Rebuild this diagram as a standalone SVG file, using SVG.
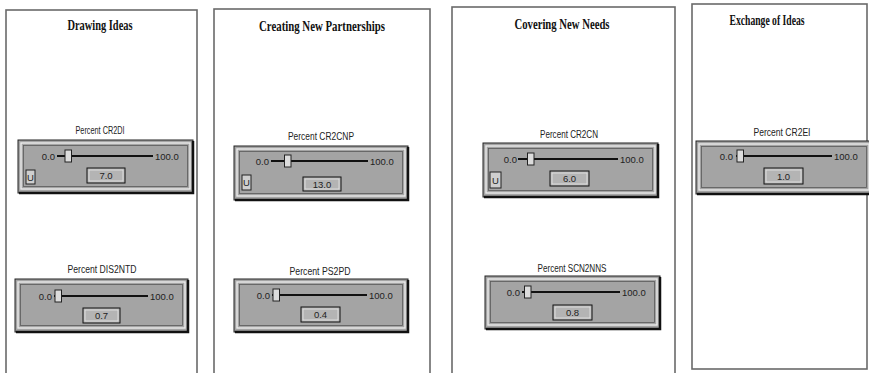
<svg xmlns="http://www.w3.org/2000/svg" width="869" height="373" viewBox="0 0 869 373">
<style>
.panel{fill:#fff;stroke:#6a6a6a;stroke-width:1.6}
.title{font-family:"Liberation Serif",serif;font-weight:bold;font-size:14px;fill:#111;text-anchor:middle}
.lbl{font-family:"Liberation Sans",sans-serif;font-size:10.5px;fill:#222;text-anchor:middle}
.v{font-family:"Liberation Sans",sans-serif;font-size:9.5px;fill:#222;text-anchor:middle}
.num{font-family:"Liberation Sans",sans-serif;font-size:9.5px;fill:#222}
.box{fill:#a4a4a4;stroke:#222;stroke-width:1}
.shadow{stroke:#111;stroke-width:2.5;fill:none}
.hi{fill:none;stroke:#ececec;stroke-width:1.4}
.lo{fill:none;stroke:#5a5a5a;stroke-width:0.8}
.track{stroke:#111;stroke-width:2.2}
.thumb{fill:#dcdcdc;stroke:#222;stroke-width:1}
.val{fill:#b4b4b4;stroke:#111;stroke-width:1}
.valhi{fill:none;stroke:#e6e6e6;stroke-width:0.8}
.btn{fill:#cfcfcf;stroke:#222;stroke-width:1}
</style>

<g id="panel-drawing-ideas">
<rect class="panel" x="6" y="10" width="191" height="370"/>
<text class="title" x="100" y="30" textLength="65" lengthAdjust="spacingAndGlyphs">Drawing Ideas</text>
</g>
<g id="panel-creating-new-partnerships">
<rect class="panel" x="214" y="9" width="216" height="370"/>
<text class="title" x="322" y="31" textLength="126" lengthAdjust="spacingAndGlyphs">Creating New Partnerships</text>
</g>
<g id="panel-covering-new-needs">
<rect class="panel" x="452" y="7" width="223" height="372"/>
<text class="title" x="562" y="29" textLength="95" lengthAdjust="spacingAndGlyphs">Covering New Needs</text>
</g>
<g id="panel-exchange-of-ideas">
<rect class="panel" x="692" y="4" width="175" height="365"/>
<text class="title" x="767" y="25" textLength="75" lengthAdjust="spacingAndGlyphs">Exchange of Ideas</text>
</g>

<!-- Slider: Percent CR2DI -->
<g id="slider-cr2di">
<text class="lbl" x="100" y="134" textLength="49" lengthAdjust="spacingAndGlyphs">Percent CR2DI</text>
<rect class="box" x="18" y="140" width="175" height="53"/>
<polyline class="shadow" points="19,193 193,193 193,141"/>
<rect class="hi" x="21" y="143" width="169" height="46"/>
<rect class="lo" x="23.5" y="145.5" width="164" height="41"/>
<text class="num" x="55" y="160" text-anchor="end">0.0</text>
<line class="track" x1="57" y1="156" x2="153" y2="156"/>
<rect class="thumb" x="65" y="150" width="6.5" height="12"/>
<text class="num" x="155" y="160">100.0</text>
<rect class="val" x="87" y="168" width="38" height="15"/>
<rect class="valhi" x="89" y="170" width="34" height="11"/>
<text class="v" x="106" y="179">7.0</text>
<rect class="btn" x="26" y="170" width="9" height="14"/>
<text class="v" x="30.5" y="181">U</text>
</g>

<!-- Slider: Percent DIS2NTD -->
<g id="slider-dis2ntd">
<text class="lbl" x="102" y="273" textLength="69" lengthAdjust="spacingAndGlyphs">Percent DIS2NTD</text>
<rect class="box" x="15" y="279" width="173" height="53"/>
<polyline class="shadow" points="16,332 188,332 188,280"/>
<rect class="hi" x="18" y="282" width="167" height="46"/>
<rect class="lo" x="20.5" y="284.5" width="162" height="41"/>
<text class="num" x="52" y="300" text-anchor="end">0.0</text>
<line class="track" x1="54" y1="296" x2="148" y2="296"/>
<rect class="thumb" x="55" y="290" width="6.5" height="12"/>
<text class="num" x="150" y="300">100.0</text>
<rect class="val" x="83" y="308" width="37" height="15"/>
<rect class="valhi" x="85" y="310" width="33" height="11"/>
<text class="v" x="101.5" y="319">0.7</text>
</g>

<!-- Slider: Percent CR2CNP -->
<g id="slider-cr2cnp">
<text class="lbl" x="321" y="140" textLength="66" lengthAdjust="spacingAndGlyphs">Percent CR2CNP</text>
<rect class="box" x="234" y="146" width="174" height="54"/>
<polyline class="shadow" points="235,200 408,200 408,147"/>
<rect class="hi" x="237" y="149" width="168" height="47"/>
<rect class="lo" x="239.5" y="151.5" width="163" height="42"/>
<text class="num" x="269" y="165" text-anchor="end">0.0</text>
<line class="track" x1="271" y1="161" x2="368" y2="161"/>
<rect class="thumb" x="284.5" y="155" width="6.5" height="12"/>
<text class="num" x="370" y="165">100.0</text>
<rect class="val" x="303" y="177" width="38" height="14"/>
<rect class="valhi" x="305" y="179" width="34" height="10"/>
<text class="v" x="322" y="187.5">13.0</text>
<rect class="btn" x="242" y="175" width="9" height="15"/>
<text class="v" x="246.5" y="186">U</text>
</g>

<!-- Slider: Percent PS2PD -->
<g id="slider-ps2pd">
<text class="lbl" x="320" y="275" textLength="61" lengthAdjust="spacingAndGlyphs">Percent PS2PD</text>
<rect class="box" x="234" y="279" width="174" height="53"/>
<polyline class="shadow" points="235,332 408,332 408,280"/>
<rect class="hi" x="237" y="282" width="168" height="46"/>
<rect class="lo" x="239.5" y="284.5" width="163" height="41"/>
<text class="num" x="270" y="299" text-anchor="end">0.0</text>
<line class="track" x1="272" y1="295" x2="367" y2="295"/>
<rect class="thumb" x="273" y="289" width="6.5" height="12"/>
<text class="num" x="369" y="299">100.0</text>
<rect class="val" x="301" y="307" width="39" height="15"/>
<rect class="valhi" x="303" y="309" width="35" height="11"/>
<text class="v" x="320.5" y="318">0.4</text>
</g>

<!-- Slider: Percent CR2CN -->
<g id="slider-cr2cn">
<text class="lbl" x="569" y="138" textLength="58" lengthAdjust="spacingAndGlyphs">Percent CR2CN</text>
<rect class="box" x="483" y="143" width="175" height="54"/>
<polyline class="shadow" points="484,197 658,197 658,144"/>
<rect class="hi" x="486" y="146" width="169" height="47"/>
<rect class="lo" x="488.5" y="148.5" width="164" height="42"/>
<text class="num" x="517" y="163" text-anchor="end">0.0</text>
<line class="track" x1="518" y1="159" x2="618" y2="159"/>
<rect class="thumb" x="527.5" y="153" width="6.5" height="12"/>
<text class="num" x="620" y="163">100.0</text>
<rect class="val" x="550" y="171" width="39" height="15"/>
<rect class="valhi" x="552" y="173" width="35" height="11"/>
<text class="v" x="569.5" y="182">6.0</text>
<rect class="btn" x="490" y="172" width="11" height="16"/>
<text class="v" x="495.5" y="184">U</text>
</g>

<!-- Slider: Percent SCN2NNS -->
<g id="slider-scn2nns">
<text class="lbl" x="572" y="272" textLength="69" lengthAdjust="spacingAndGlyphs">Percent SCN2NNS</text>
<rect class="box" x="485" y="276" width="175" height="53"/>
<polyline class="shadow" points="486,329 660,329 660,277"/>
<rect class="hi" x="488" y="279" width="169" height="46"/>
<rect class="lo" x="490.5" y="281.5" width="164" height="41"/>
<text class="num" x="520" y="296" text-anchor="end">0.0</text>
<line class="track" x1="522" y1="292" x2="620" y2="292"/>
<rect class="thumb" x="524.5" y="286" width="6.5" height="12"/>
<text class="num" x="622" y="296">100.0</text>
<rect class="val" x="553" y="305" width="39" height="15"/>
<rect class="valhi" x="555" y="307" width="35" height="11"/>
<text class="v" x="572.5" y="316">0.8</text>
</g>

<!-- Slider: Percent CR2EI -->
<g id="slider-cr2ei">
<text class="lbl" x="782" y="136" textLength="57" lengthAdjust="spacingAndGlyphs">Percent CR2EI</text>
<rect class="box" x="696" y="141" width="176" height="53"/>
<polyline class="shadow" points="697,194 872,194"/>
<rect class="hi" x="699" y="144" width="170" height="46"/>
<rect class="lo" x="701.5" y="146.5" width="165" height="41"/>
<text class="num" x="733" y="160" text-anchor="end">0.0</text>
<line class="track" x1="736" y1="156" x2="832" y2="156"/>
<rect class="thumb" x="737" y="150" width="6.5" height="12"/>
<text class="num" x="834" y="160">100.0</text>
<rect class="val" x="764" y="168" width="39" height="16"/>
<rect class="valhi" x="766" y="170" width="35" height="12"/>
<text class="v" x="783.5" y="179.5">1.0</text>
</g>
</svg>
